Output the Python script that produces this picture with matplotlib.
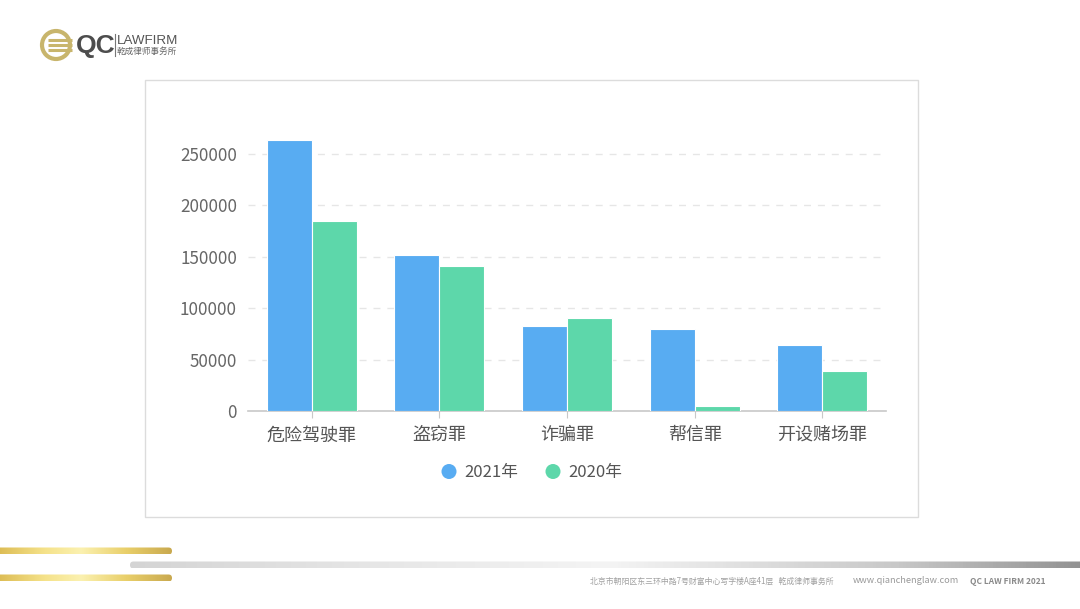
"""Crime case counts 2021 vs 2020, QC law firm slide."""

import matplotlib

matplotlib.use("Agg")
import matplotlib.pyplot as plt
import numpy as np
from matplotlib.patches import Circle, FancyBboxPatch, Rectangle

plt.rcParams["font.family"] = ["Noto Sans CJK SC", "DejaVu Sans"]

categories = ["危险驾驶罪", "盗窃罪", "诈骗罪", "帮信罪", "开设赌场罪"]
values_2021 = [263600, 151800, 82700, 80100, 63900]
values_2020 = [184800, 141000, 90800, 4600, 38900]
series_labels = ["2021年", "2020年"]
y_ticks = [0, 50000, 100000, 150000, 200000, 250000]

BLUE = "#58acf2"
GREEN = "#5dd7aa"
TEXT = "#666666"

W, H = 1080, 609
fig = plt.figure(figsize=(W / 100, H / 100), dpi=100)
fig.patch.set_facecolor("white")

# background layer in pixel coordinates
bg = fig.add_axes([0, 0, 1, 1])
bg.set_xlim(0, W)
bg.set_ylim(H, 0)
bg.axis("off")

# chart frame
bg.add_patch(Rectangle((145, 80), 773, 437, fill=False, edgecolor="#dcdcdc", linewidth=1))


def gradient_bar(ax, x0, x1, yc, h, colors, stops):
    xs = np.linspace(0, 1, 256)
    rgb = np.array([matplotlib.colors.to_rgb(c) for c in colors])
    img = np.stack([np.interp(xs, stops, rgb[:, k]) for k in range(3)], axis=-1)[None, :, :]
    im = ax.imshow(img, extent=(x0, x1, yc + h / 2, yc - h / 2), aspect="auto", zorder=1)
    clip = FancyBboxPatch((x0, yc - h / 2), x1 - x0, h, boxstyle=f"round,pad=0,rounding_size={h / 2}",
                          transform=ax.transData, facecolor="none", edgecolor="none")
    ax.add_patch(clip)
    im.set_clip_path(clip)


gold = ["#d8b54a", "#f5e28a", "#fbf1b0", "#e9cf6a", "#c9a94f"]
gold_stops = [0, 0.3, 0.5, 0.75, 1]
gradient_bar(bg, -10, 172, 551, 7, gold, gold_stops)
gradient_bar(bg, -10, 172, 578, 7, gold, gold_stops)
gradient_bar(bg, 130, 1090, 565, 7, ["#d4d4d4", "#e6e6e6", "#f4f4f4", "#c8c8c8", "#8f8f8f"], [0, 0.25, 0.5, 0.8, 1])
bg.set_xlim(0, W)
bg.set_ylim(H, 0)

# logo
bg.add_patch(Circle((56, 45), 14, fill=False, edgecolor="#c8b56c", linewidth=3))
for dy in (-5, 0, 5):
    bg.plot([48, 72], [45 + dy, 45 + dy], color="#c8b56c", linewidth=2.2, solid_capstyle="butt")
bg.text(76, 46, "QC", fontsize=19, color="#4d4d4d", va="center", ha="left",
        family=["Liberation Sans"], fontweight="bold")
bg.plot([114.5, 114.5], [34, 56], color="#777777", linewidth=0.8)
bg.text(117, 41, "LAWFIRM", fontsize=9.6, color="#555555", va="center", ha="left", family=["Liberation Sans"])
bg.text(117, 51.5, "乾成律师事务所", fontsize=6.2, color="#666666", va="center", ha="left")

# footer
bg.text(590, 581, "北京市朝阳区东三环中路7号财富中心写字楼A座41层   乾成律师事务所", fontsize=5.7,
        color="#a0a0a0", va="center", ha="left")
bg.text(853, 580.5, "www.qianchenglaw.com", fontsize=6.6, color="#9a9a9a", va="center", ha="left")
bg.text(970, 581, "QC LAW FIRM 2021", fontsize=6.0, color="#8a8a8a", va="center", ha="left", fontweight="bold")

# chart
ymax = 280000
y0_px, y250_px = 411, 154
top_px = y0_px - (y0_px - y250_px) * ymax / 250000
ax = fig.add_axes([248 / W, 1 - y0_px / H, (886 - 248) / W, (y0_px - top_px) / H])
ax.set_facecolor("none")

x = np.arange(len(categories))
bw = 0.352
ax.bar(x - bw / 2, values_2021, width=bw, color=BLUE, edgecolor="white", linewidth=0.8, zorder=3,
       label=series_labels[0])
ax.bar(x + bw / 2, values_2020, width=bw, color=GREEN, edgecolor="white", linewidth=0.8, zorder=3,
       label=series_labels[1])

ax.set_xlim(-0.5, len(categories) - 0.5)
ax.set_ylim(0, ymax)
ax.set_yticks(y_ticks)
ax.set_yticklabels([str(v) for v in y_ticks])
for v in y_ticks[1:]:
    ax.axhline(v, color="#e6e6e6", linewidth=1, linestyle=(0, (5, 5)), zorder=1)

ax.set_xticks(x)
ax.set_xticklabels(categories)
for s in ("top", "right", "left"):
    ax.spines[s].set_visible(False)
ax.spines["bottom"].set_color("#c8c8c8")
ax.spines["bottom"].set_linewidth(1.2)
ax.tick_params(axis="y", length=0, labelsize=12.3, labelcolor=TEXT, pad=8)
ax.tick_params(axis="x", length=5, color="#c8c8c8", labelsize=13, labelcolor="#555555", pad=6)

# legend
for xc, col, lab in [(449, BLUE, series_labels[0]), (553, GREEN, series_labels[1])]:
    bg.add_patch(Circle((xc, 471.5), 7.5, facecolor=col, edgecolor="none"))
    bg.text(xc + 15, 472, lab, fontsize=12, color="#555555", va="center", ha="left")

fig.savefig("out.png", dpi=100, facecolor="white")
